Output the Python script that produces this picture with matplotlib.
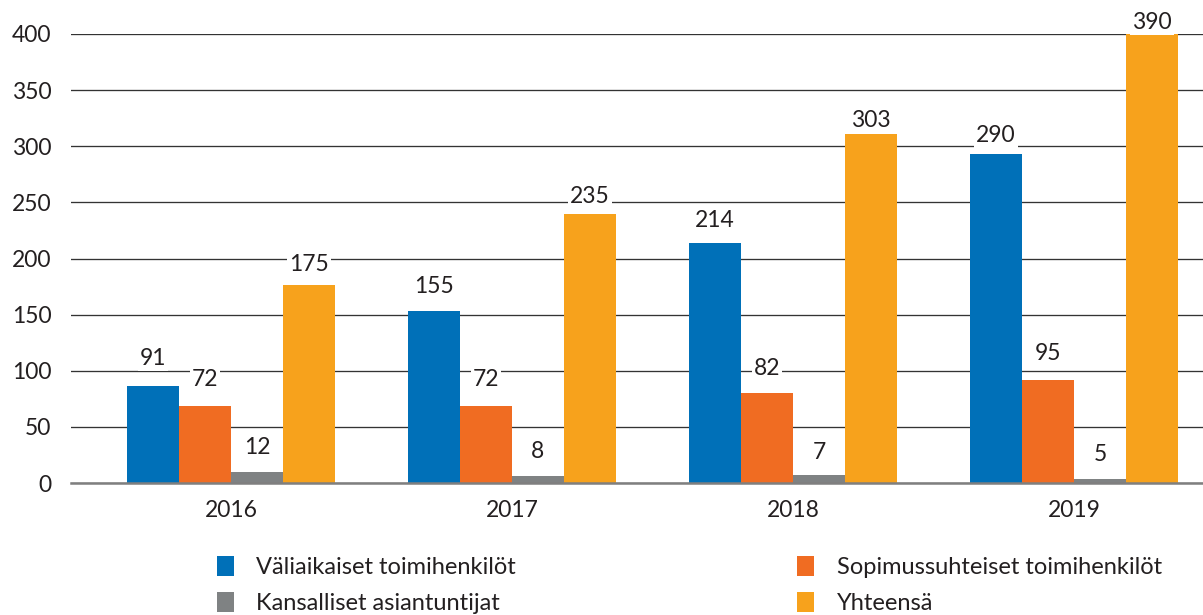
import matplotlib.pyplot as plt
import numpy as np
from matplotlib.patches import Patch

plt.rcParams['font.family'] = ['Lato', 'DejaVu Sans']

years = ['2016', '2017', '2018', '2019']
series_names = ['Väliaikaiset toimihenkilöt', 'Sopimussuhteiset toimihenkilöt',
                'Kansalliset asiantuntijat', 'Yhteensä']
# bar heights as drawn in the picture
valiaikaiset = [86, 153, 214, 293]
sopimus = [69, 69, 80, 92]
kansalliset = [10, 6, 7, 4]
yhteensa = [176, 240, 311, 400]
# the printed value labels
lab_valiaikaiset = [91, 155, 214, 290]
lab_sopimus = [72, 72, 82, 95]
lab_kansalliset = [12, 8, 7, 5]
lab_yhteensa = [175, 235, 303, 390]

colors = ['#0070B8', '#F06C22', '#7F8283', '#F7A21C']
text_col = '#231F20'

heights = [valiaikaiset, sopimus, kansalliset, yhteensa]
labels = [lab_valiaikaiset, lab_sopimus, lab_kansalliset, lab_yhteensa]

fig = plt.figure(figsize=(12.03, 6.15), dpi=100)
ax = fig.add_axes([71 / 1203, 132 / 615, 1 - 71 / 1203, 449 / 615])

x = np.arange(len(years))
w = 0.185
for i in range(4):
    xs = x + (i - 1.5) * w
    ax.bar(xs, heights[i], width=w, color=colors[i], zorder=3)
    for xi, lv in zip(xs, labels[i]):
        ax.annotate(str(lv), (xi, lv), xytext=(0, 11.5), textcoords='offset points',
                    ha='center', va='baseline', fontsize=16.5, color=text_col, zorder=4,
                    bbox=dict(facecolor='white', edgecolor='none', pad=1.5))

ax.set_ylim(0, 400)
ax.set_xlim(-0.569, 3.459)
ax.set_yticks(range(0, 401, 50))
ax.yaxis.grid(True, color='#333333', linewidth=0.95, zorder=0)
ax.set_axisbelow(True)
for s in ['top', 'right', 'left']:
    ax.spines[s].set_visible(False)
ax.spines['bottom'].set_color('#7F7F7F')
ax.spines['bottom'].set_linewidth(1.8)
ax.spines['bottom'].set_zorder(5)
ax.set_xticks(x)
ax.set_xticklabels(years)
ax.tick_params(axis='both', length=0, labelsize=16.5, labelcolor=text_col)
ax.tick_params(axis='y', pad=14)
ax.tick_params(axis='x', pad=12)

order = [0, 2, 1, 3]
handles = [Patch(facecolor=colors[k], edgecolor='none') for k in order]
fig.legend(handles, [series_names[k] for k in order], ncol=2, loc='upper left',
           bbox_to_anchor=(217 / 1203, 1 - 556 / 615), frameon=False, fontsize=17,
           handlelength=0.72, handleheight=0.9, handletextpad=0.95,
           columnspacing=11.9, labelspacing=0.6, borderaxespad=0, borderpad=0,
           labelcolor=text_col)

fig.savefig('out.png', dpi=100)
